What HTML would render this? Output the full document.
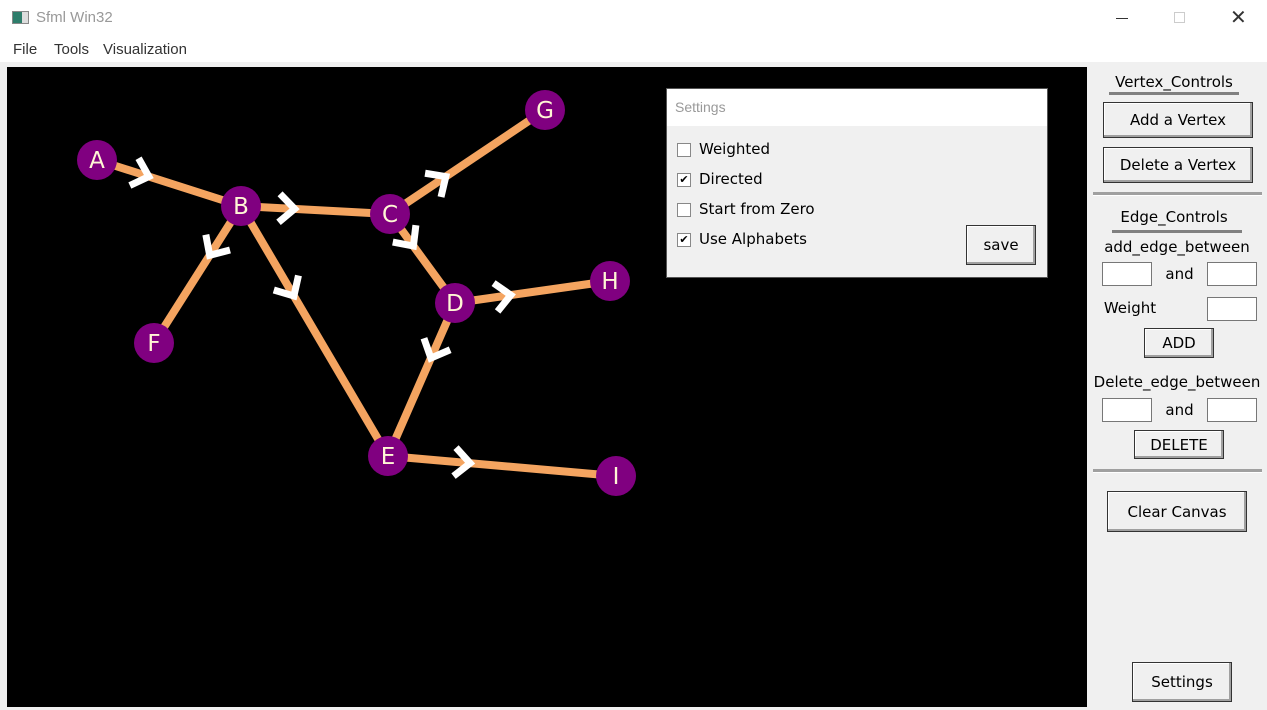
<!DOCTYPE html>
<html><head><meta charset="utf-8">
<style>
*{box-sizing:border-box;margin:0;padding:0}
body{width:1267px;height:710px;overflow:hidden;background:#f0f0f0;font-family:"DejaVu Sans","Liberation Sans",sans-serif;position:relative}
.abs{position:absolute}
.btn{position:absolute;background:#f0f0f0;border:1px solid #333;box-shadow:inset -2px -2px 0 #a0a0a0,inset 1px 1px 0 #fff;font-size:15px;color:#000;display:flex;align-items:center;justify-content:center}
.inp{position:absolute;background:#fff;border:1px solid #777;width:50px;height:24px}
.lbl{position:absolute;font-size:15px;color:#000;text-align:center;white-space:nowrap}
.sep{position:absolute;left:1093px;width:169px;height:4px;background:#a0a0a0;border-bottom:1px solid #fff}
.ul{position:absolute;height:3px;background:#808080}
.cb{position:absolute;left:677px;width:14px;height:14px;background:#fff;border:1px solid #888;font-size:11px;line-height:12px;text-align:center}
.cbl{position:absolute;left:699px;font-size:15px}
</style></head><body>
<div class="abs" style="left:0;top:0;width:1267px;height:36px;background:#fff">
  <div class="abs" style="left:12px;top:11px;width:17px;height:13px;border:1px solid #888;background:linear-gradient(90deg,#2e7d6b 60%,#ddd 60%)"></div>
  <div class="abs" style="left:36px;top:9px;font-family:'Liberation Sans',sans-serif;font-size:15px;color:#999">Sfml Win32</div>
  <div class="abs" style="left:1116px;top:18px;width:12px;height:1px;background:#333"></div>
  <div class="abs" style="left:1174px;top:12px;width:11px;height:11px;border:1px solid #ccc"></div>
  <div class="abs" style="left:1230px;top:5px;font-family:'Liberation Sans',sans-serif;font-size:20px;color:#333">✕</div>
</div>
<div class="abs" style="left:0;top:36px;width:1267px;height:26px;background:#fff;font-family:'Liberation Sans',sans-serif;font-size:15px;color:#333">
  <span class="abs" style="left:13px;top:5px">File</span>
  <span class="abs" style="left:54px;top:5px">Tools</span>
  <span class="abs" style="left:103px;top:5px">Visualization</span>
</div>
<svg class="abs" style="left:7px;top:67px" width="1080" height="640" viewBox="7 67 1080 640">
<rect x="7" y="67" width="1080" height="640" fill="#000"/>
<g id="edges"></g><g id="arrows"></g><g id="nodes"></g>
</svg>
<div class="abs" style="left:666px;top:88px;width:382px;height:190px;background:#f0f0f0;border:1px solid #555">
  <div class="abs" style="left:0;top:0;width:380px;height:37px;background:#fff;font-family:'Liberation Sans',sans-serif;font-size:14px;color:#999;padding:10px 8px">Settings</div>
</div>
<div class="cb" style="top:143px"></div><div class="cbl" style="top:140px">Weighted</div>
<div class="cb" style="top:173px">✔</div><div class="cbl" style="top:170px">Directed</div>
<div class="cb" style="top:203px"></div><div class="cbl" style="top:200px">Start from Zero</div>
<div class="cb" style="top:233px">✔</div><div class="cbl" style="top:230px">Use Alphabets</div>
<div class="btn" style="left:966px;top:225px;width:70px;height:40px">save</div>

<div class="lbl" style="left:1094px;top:73px;width:160px">Vertex_Controls</div>
<div class="ul" style="left:1109px;top:92px;width:130px"></div>
<div class="btn" style="left:1103px;top:102px;width:150px;height:36px">Add a Vertex</div>
<div class="btn" style="left:1103px;top:147px;width:150px;height:36px">Delete a Vertex</div>
<div class="sep" style="top:192px"></div>
<div class="lbl" style="left:1094px;top:208px;width:160px">Edge_Controls</div>
<div class="ul" style="left:1112px;top:230px;width:130px"></div>
<div class="lbl" style="left:1087px;top:238px;width:180px">add_edge_between</div>
<div class="inp" style="left:1102px;top:262px"></div>
<div class="lbl" style="left:1157px;top:265px;width:45px">and</div>
<div class="inp" style="left:1207px;top:262px"></div>
<div class="lbl" style="left:1100px;top:299px;width:60px">Weight</div>
<div class="inp" style="left:1207px;top:297px"></div>
<div class="btn" style="left:1144px;top:328px;width:70px;height:30px">ADD</div>
<div class="lbl" style="left:1082px;top:373px;width:190px">Delete_edge_between</div>
<div class="inp" style="left:1102px;top:398px"></div>
<div class="lbl" style="left:1157px;top:401px;width:45px">and</div>
<div class="inp" style="left:1207px;top:398px"></div>
<div class="btn" style="left:1134px;top:430px;width:90px;height:29px">DELETE</div>
<div class="sep" style="top:469px"></div>
<div class="btn" style="left:1107px;top:491px;width:140px;height:41px">Clear Canvas</div>
<div class="btn" style="left:1132px;top:662px;width:100px;height:40px">Settings</div>

<script>
const nodeLabels=["A","B","C","D","E","F","G","H","I"];
const nodeX=[97,241,390,455,388,154,545,610,616];
const nodeY=[160,206,214,303,456,343,110,281,476];
const edgeFrom=["A","B","C","B","B","C","D","D","E"];
const edgeTo=["B","C","G","F","E","D","H","E","I"];
const NS="http://www.w3.org/2000/svg";
const eg=document.getElementById('edges'),ag=document.getElementById('arrows'),ng=document.getElementById('nodes');
function idx(l){return nodeLabels.indexOf(l);}
edgeFrom.forEach((f,i)=>{
  const a=idx(f),b=idx(edgeTo[i]);
  const x1=nodeX[a],y1=nodeY[a],x2=nodeX[b],y2=nodeY[b];
  const ln=document.createElementNS(NS,'line');
  
  
  ln.setAttribute('x1',x1);ln.setAttribute('y1',y1);ln.setAttribute('x2',x2);ln.setAttribute('y2',y2);
  ln.setAttribute('stroke','#f4a460');ln.setAttribute('stroke-width','8');
  eg.appendChild(ln);
  const t=0.36,tx=x1+(x2-x1)*t,ty=y1+(y2-y1)*t;
  const ang=Math.atan2(y2-y1,x2-x1),L=21,sp=0.75;
  const p1=[tx-L*Math.cos(ang-sp),ty-L*Math.sin(ang-sp)],p2=[tx-L*Math.cos(ang+sp),ty-L*Math.sin(ang+sp)];
  const pl=document.createElementNS(NS,'polyline');
  
  
  pl.setAttribute('points',p1.join(',')+' '+tx+','+ty+' '+p2.join(','));
  pl.setAttribute('fill','none');pl.setAttribute('stroke','#fff');pl.setAttribute('stroke-width','7');pl.setAttribute('stroke-linejoin','miter');
  ag.appendChild(pl);
});
nodeLabels.forEach((l,i)=>{
  const g=document.createElementNS(NS,'g');
  
  
  const c=document.createElementNS(NS,'circle');
  c.setAttribute('cx',nodeX[i]);c.setAttribute('cy',nodeY[i]);c.setAttribute('r','20');c.setAttribute('fill','#800080');
  const t=document.createElementNS(NS,'text');
  t.setAttribute('x',nodeX[i]);t.setAttribute('y',nodeY[i]+8);t.setAttribute('text-anchor','middle');
  t.setAttribute('font-family','DejaVu Sans, sans-serif');t.setAttribute('font-size','23');t.setAttribute('fill','#fff6d5');
  t.textContent=l;
  g.appendChild(c);g.appendChild(t);ng.appendChild(g);
});
</script>
</body></html>
